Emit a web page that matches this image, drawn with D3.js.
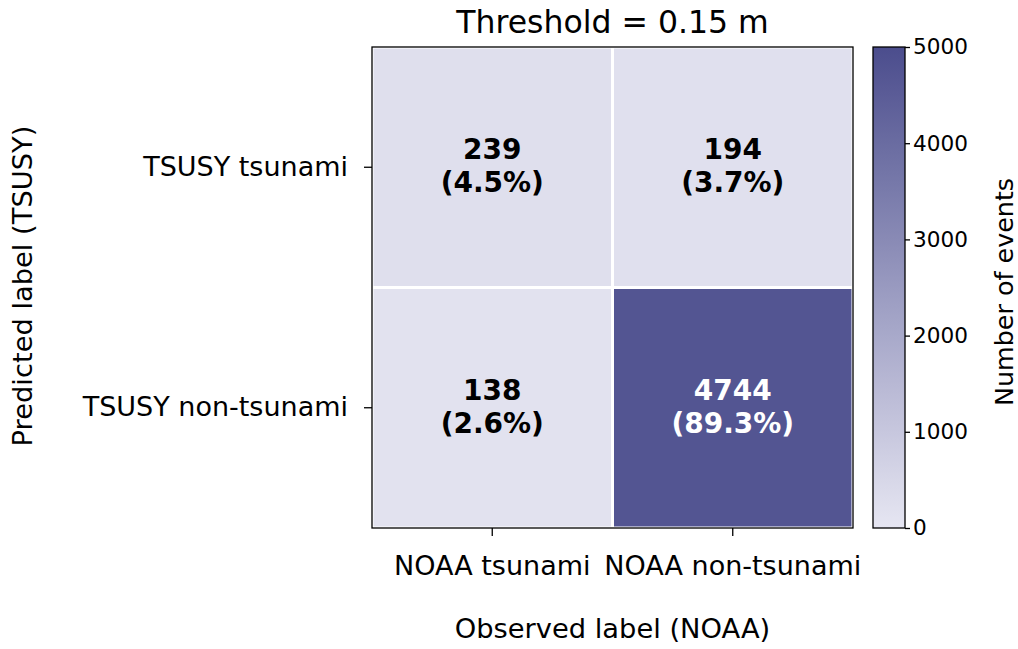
<!DOCTYPE html>
<html>
<head>
<meta charset="utf-8">
<script src="https://cdn.jsdelivr.net/npm/d3@7"></script>
<style>
  body { margin: 0; background: white; }
  text { font-family: "DejaVu Sans", sans-serif; fill: black; }
</style>
</head>
<body>
<div id="chart"></div>
<script>
// data
var observed = ["NOAA tsunami", "NOAA non-tsunami"];
var predicted = ["TSUSY tsunami", "TSUSY non-tsunami"];
var counts = [[239, 194], [138, 4744]];   // rows = predicted, cols = observed
var percents = ["4.5%", "3.7%", "2.6%", "89.3%"];
var cbTicks = [0, 1000, 2000, 3000, 4000, 5000];

var W = 1018, H = 649;
var margin = { left: 372, top: 47 };
var size = 481;

var svg = d3.select("#chart").append("svg")
    .attr("width", W).attr("height", H);

var color = d3.scaleLinear().domain([0, 5000])
    .range(["#e6e6f2", "#4b4d8d"]).interpolate(d3.interpolateRgb);

var x = d3.scaleBand().domain(observed).range([0, size]);
var y = d3.scaleBand().domain(predicted).range([0, size]);

var g = svg.append("g").attr("transform", "translate(" + margin.left + "," + margin.top + ")");

var cells = [];
counts.forEach(function(row, i) {
    row.forEach(function(v, j) {
        cells.push({ r: predicted[i], c: observed[j], v: v, p: percents[i * 2 + j] });
    });
});

g.selectAll("rect.cell").data(cells).enter().append("rect")
    .attr("class", "cell")
    .attr("x", function(d) { return x(d.c); })
    .attr("y", function(d) { return y(d.r); })
    .attr("width", x.bandwidth())
    .attr("height", y.bandwidth())
    .attr("fill", function(d) { return color(d.v); })
    .attr("stroke", "white")
    .attr("stroke-width", 3);

var labels = g.selectAll("text.val").data(cells).enter().append("text")
    .attr("class", "val")
    .attr("text-anchor", "middle")
    .attr("font-size", "28px")
    .attr("font-weight", "bold")
    .style("fill", function(d) { return d.v > 2500 ? "white" : "black"; });
labels.append("tspan")
    .attr("x", function(d) { return x(d.c) + x.bandwidth() / 2; })
    .attr("y", function(d) { return y(d.r) + y.bandwidth() / 2 - 8; })
    .text(function(d) { return d.v; });
labels.append("tspan")
    .attr("x", function(d) { return x(d.c) + x.bandwidth() / 2; })
    .attr("y", function(d) { return y(d.r) + y.bandwidth() / 2 + 25; })
    .text(function(d) { return "(" + d.p + ")"; });

// frame
g.append("rect").attr("width", size).attr("height", size)
    .attr("fill", "none").attr("stroke", "black").attr("stroke-width", 1.3);

var xAxis = g.append("g").attr("transform", "translate(0," + size + ")")
    .call(d3.axisBottom(x).tickSize(8).tickPadding(20));
var yAxis = g.append("g")
    .call(d3.axisLeft(y).tickSize(8).tickPadding(16));
[xAxis, yAxis].forEach(function(a) {
    a.select(".domain").remove();
    a.selectAll("line").attr("stroke", "black").attr("stroke-width", 1.3);
    a.selectAll("text").attr("font-size", "27px").style("font-family", "DejaVu Sans, sans-serif");
});

svg.append("text").attr("x", margin.left + size / 2).attr("y", 33)
    .attr("text-anchor", "middle").attr("font-size", "31.5px")
    .text("Threshold = 0.15 m");

svg.append("text").attr("x", margin.left + size / 2).attr("y", 638)
    .attr("text-anchor", "middle").attr("font-size", "27.3px")
    .text("Observed label (NOAA)");

svg.append("text")
    .attr("transform", "translate(32," + 286 + ") rotate(-90)")
    .attr("text-anchor", "middle").attr("font-size", "27.3px")
    .text("Predicted label (TSUSY)");

// colorbar
var cbX = 873, cbW = 32;
var defs = svg.append("defs");
var grad = defs.append("linearGradient").attr("id", "cbgrad")
    .attr("x1", 0).attr("y1", 1).attr("x2", 0).attr("y2", 0);
d3.range(0, 1.01, 0.1).forEach(function(t) {
    grad.append("stop").attr("offset", t).attr("stop-color", color(t * 5000));
});
var cy = d3.scaleLinear().domain([0, 5000]).range([margin.top + size, margin.top]);
svg.append("rect").attr("x", cbX).attr("y", margin.top)
    .attr("width", cbW).attr("height", size)
    .attr("fill", "url(#cbgrad)").attr("stroke", "black").attr("stroke-width", 1.3);
var cbAxis = svg.append("g").attr("transform", "translate(" + (cbX + cbW) + ",0)")
    .call(d3.axisRight(cy).tickValues(cbTicks).tickFormat(d3.format("d")).tickSize(5).tickPadding(3));
cbAxis.select(".domain").remove();
cbAxis.selectAll("line").attr("stroke", "black").attr("stroke-width", 1.3);
cbAxis.selectAll("text").attr("font-size", "21.6px").style("font-family", "DejaVu Sans, sans-serif");

svg.append("text")
    .attr("transform", "translate(1013," + 292 + ") rotate(-90)")
    .attr("text-anchor", "middle").attr("font-size", "25.4px")
    .text("Number of events");
</script>
</body>
</html>
